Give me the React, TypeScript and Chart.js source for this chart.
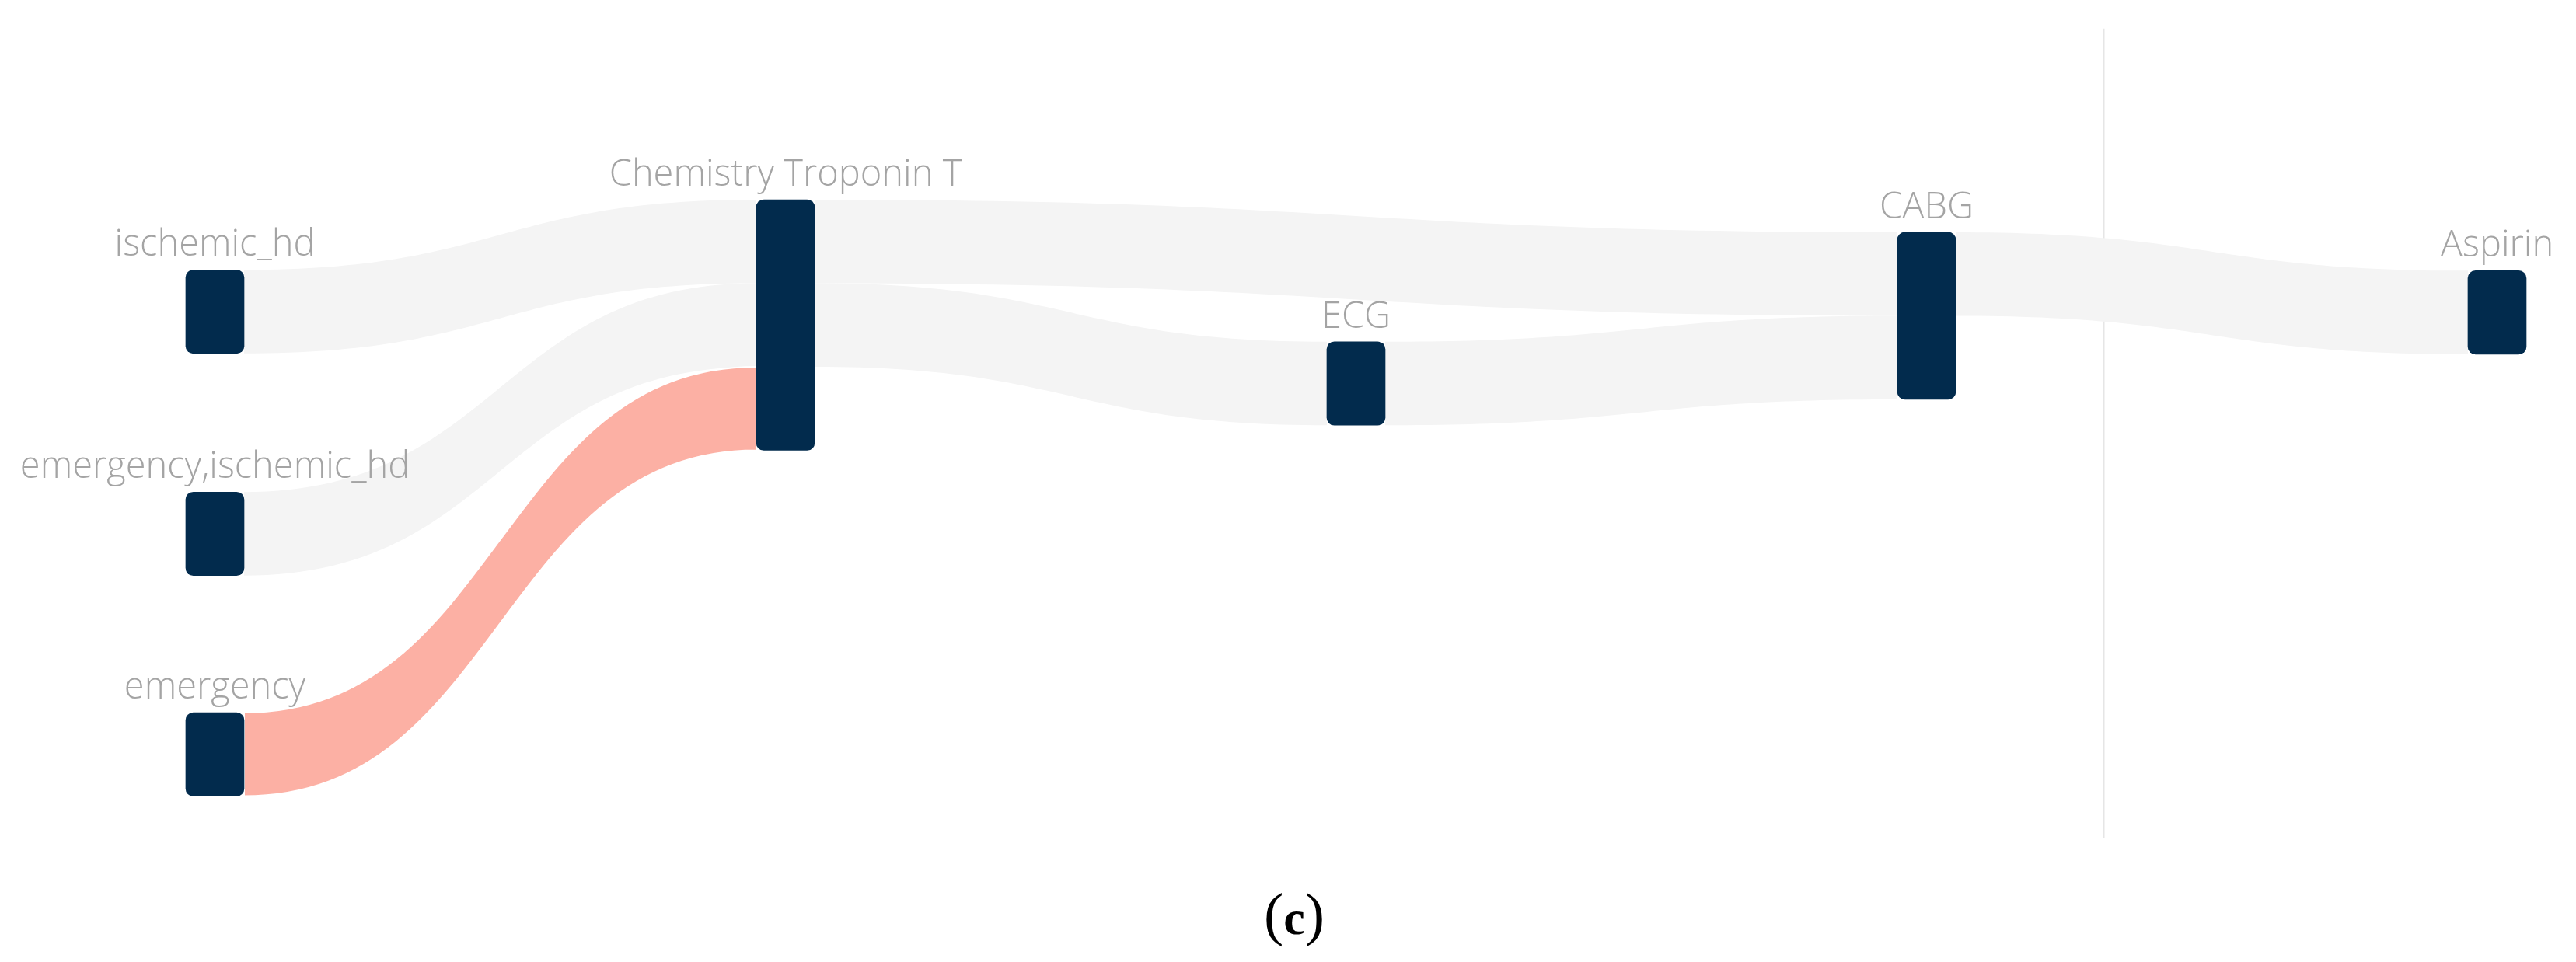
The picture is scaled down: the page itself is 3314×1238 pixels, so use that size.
import React, { useEffect, useRef } from "react";
import { Chart, registerables } from "chart.js";

Chart.register(...registerables);

// ---- data ----
const nodeNames = [
  "ischemic_hd",
  "emergency,ischemic_hd",
  "emergency",
  "Chemistry Troponin T",
  "ECG",
  "CABG",
  "Aspirin",
];
const nodeColumn = [0, 0, 0, 1, 2, 3, 4];
// vertical layout offset of each node (in flow units, from the top)
const nodeOffset = [0.84, 3.5, 6.14, 0, 1.7, 0.39, 0.85];

const linkFrom = [0, 1, 2, 3, 3, 4, 5];
const linkTo = [3, 3, 3, 5, 4, 5, 6];
const linkValue = [1, 1, 1, 1, 1, 1, 1];
const highlightedLinks = [2];

// position of the vertical guide line (column units)
const guideX = 3.31;
const guideYRange = [-2.05, 7.64];

const NODE_COLOR = "#022b4d";
const LINK_COLOR = "#f4f4f4";
const LINK_HI_COLOR = "#fcb0a4";
const LABEL_COLOR = "#a4a4a4";

function nodeSizes() {
  const inSum = nodeNames.map(() => 0);
  const outSum = nodeNames.map(() => 0);
  linkFrom.forEach((f, i) => {
    outSum[f] += linkValue[i];
    inSum[linkTo[i]] += linkValue[i];
  });
  return nodeNames.map((_, i) => Math.max(inSum[i], outSum[i]));
}

export default function App() {
  const ref = useRef<HTMLCanvasElement | null>(null);

  useEffect(() => {
    const canvas = ref.current;
    if (!canvas) return;
    const sizes = nodeSizes();

    const linkPlugin = {
      id: "sankeyLinks",
      beforeDatasetsDraw(chart: any) {
        const { ctx, scales } = chart;
        const y = scales.y;
        const x = scales.x;
        const els = chart.getDatasetMeta(0).data;
        // guide line
        ctx.save();
        ctx.strokeStyle = "#e6e6e6";
        ctx.lineWidth = 2;
        ctx.beginPath();
        const gx = Math.round(x.getPixelForValue(guideX)) + 0.5;
        ctx.moveTo(gx, y.getPixelForValue(guideYRange[0]));
        ctx.lineTo(gx, y.getPixelForValue(guideYRange[1]));
        ctx.stroke();
        ctx.restore();

        const outAcc = nodeNames.map(() => 0);
        const inAcc = nodeNames.map(() => 0);
        const shapes: any[] = [];
        linkFrom.forEach((f, i) => {
          const t = linkTo[i];
          const v = linkValue[i];
          const s0 = nodeOffset[f] + outAcc[f];
          const t0 = nodeOffset[t] + inAcc[t];
          outAcc[f] += v;
          inAcc[t] += v;
          const se = els[f].getProps(["x", "width"], true);
          const te = els[t].getProps(["x", "width"], true);
          const x0 = se.x + se.width / 2;
          const x1 = te.x - te.width / 2;
          shapes.push({
            i,
            x0,
            x1,
            ya0: y.getPixelForValue(s0),
            yb0: y.getPixelForValue(s0 + v),
            ya1: y.getPixelForValue(t0),
            yb1: y.getPixelForValue(t0 + v),
          });
        });
        const order = shapes
          .filter((s) => !highlightedLinks.includes(s.i))
          .concat(shapes.filter((s) => highlightedLinks.includes(s.i)));
        ctx.save();
        order.forEach((s) => {
          const xm = (s.x0 + s.x1) / 2;
          ctx.beginPath();
          ctx.moveTo(s.x0, s.ya0);
          ctx.bezierCurveTo(xm, s.ya0, xm, s.ya1, s.x1, s.ya1);
          ctx.lineTo(s.x1, s.yb1);
          ctx.bezierCurveTo(xm, s.yb1, xm, s.yb0, s.x0, s.yb0);
          ctx.closePath();
          const hi = highlightedLinks.includes(s.i);
          ctx.fillStyle = hi ? LINK_HI_COLOR : LINK_COLOR;
          ctx.fill();
          if (hi) {
            ctx.strokeStyle = "#ffffff";
            ctx.lineWidth = 2;
            ctx.stroke();
          }
        });
        ctx.restore();
      },
      afterDatasetsDraw(chart: any) {
        const { ctx } = chart;
        const els = chart.getDatasetMeta(0).data;
        ctx.save();
        ctx.font = "300 47px 'Open Sans'";
        ctx.fillStyle = LABEL_COLOR;
        ctx.textAlign = "center";
        ctx.textBaseline = "alphabetic";
        nodeNames.forEach((name, i) => {
          const p = els[i].getProps(["x", "y", "base"], true);
          const top = Math.min(p.y, p.base);
          ctx.fillText(name, p.x, top - 18);
        });
        ctx.restore();
      },
    };

    const chart = new Chart(canvas, {
      type: "bar",
      data: {
        datasets: [
          {
            data: nodeNames.map((_, i) => ({
              x: nodeColumn[i],
              y: [nodeOffset[i], nodeOffset[i] + sizes[i]],
            })) as any,
            backgroundColor: NODE_COLOR,
            borderWidth: 0,
            borderRadius: 10,
            borderSkipped: false,
            barThickness: 75,
          },
        ],
      },
      options: {
        animation: false,
        responsive: false,
        devicePixelRatio: 1,
        layout: { padding: 0 },
        plugins: {
          legend: { display: false },
          tooltip: { enabled: false },
          title: { display: false },
        },
        scales: {
          x: {
            type: "linear",
            display: false,
            offset: false,
            min: -0.3767,
            max: 4.1383,
          },
          y: {
            type: "linear",
            display: false,
            reverse: true,
            bounds: "data",
            min: -2.3907,
            max: 9.1256,
          },
        },
      },
      plugins: [linkPlugin],
    });
    return () => chart.destroy();
  }, []);

  return (
    <div
      style={{
        position: "fixed",
        left: 0,
        top: 0,
        width: 3314,
        height: 1238,
        background: "#ffffff",
      }}
    >
      <canvas
        ref={ref}
        width={3314}
        height={1238}
        style={{ display: "block", width: 3314, height: 1238 }}
      />
      <div
        style={{
          position: "absolute",
          left: 0,
          width: 3330,
          top: 1134,
          textAlign: "center",
          fontFamily: "'Liberation Serif', 'Times New Roman', serif",
          fontSize: 76,
          lineHeight: "84px",
          color: "#000",
          whiteSpace: "nowrap",
        }}
      >
        (<b style={{ fontSize: 62 }}>c</b>)
      </div>
    </div>
  );
}
